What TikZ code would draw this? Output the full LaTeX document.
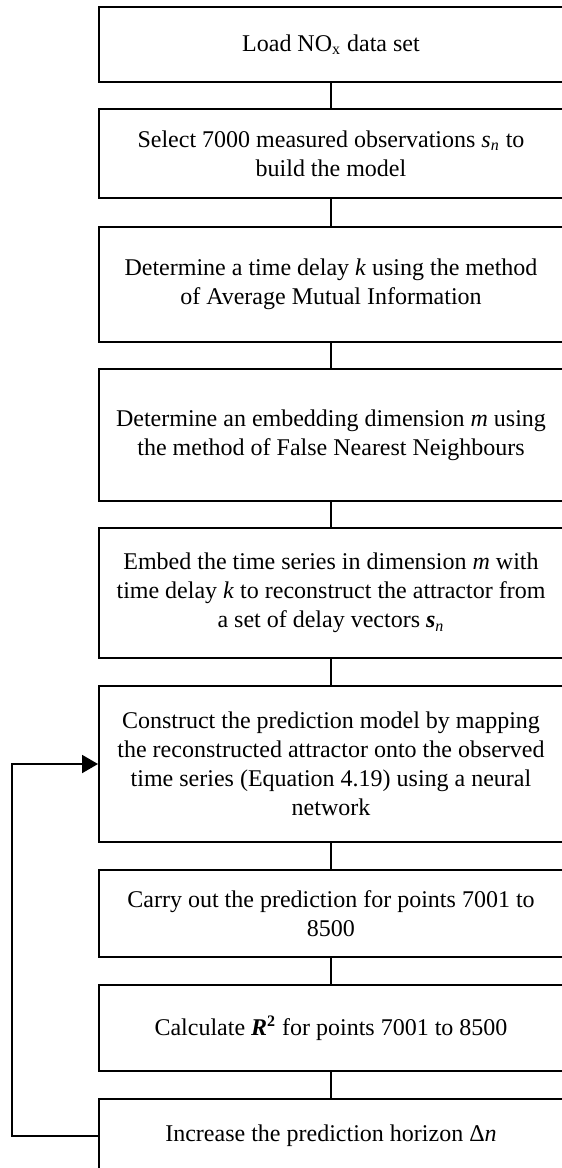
\documentclass[tikz,border=0pt]{standalone}
\usepackage{fontspec}
\setmainfont{Liberation Serif}
\usetikzlibrary{arrows.meta}

\tikzset{
  stepbox/.style={draw, line width=1pt, minimum width=232pt, text width=228pt,
    inner xsep=2pt, inner ysep=0pt, align=flush center,
    font=\fontsize{12}{14.5}\selectfont},
  link/.style={line width=1pt},
}

\begin{document}
\begin{tikzpicture}[x=0.5pt,y=0.5pt]
% frame of the page (boxes run off the right and bottom edges)
\path[use as bounding box, clip] (0,0) rectangle (562,-1168);
\fill[white] (0,0) rectangle (562,-1168);

% Steps of the method
\node[stepbox, minimum height=37.5pt] (load) at (331,-44.5) {Load NO\textsubscript{x} data set};
\node[stepbox, minimum height=44.5pt] (select) at (331,-153.5)
  {Select 7000 measured observations \textit{s}\textsubscript{\textit{n}} to\\build the model};
\node[stepbox, minimum height=57.5pt] (delay) at (331,-284.5)
  {Determine a time delay \textit{k} using the method\\of Average Mutual Information};
\node[stepbox, minimum height=66pt] (embdim) at (331,-435)
  {Determine an embedding dimension \textit{m} using\\the method of False Nearest Neighbours};
\node[stepbox, minimum height=65pt] (embed) at (331,-593)
  {Embed the time series in dimension \textit{m} with\\time delay \textit{k} to reconstruct the attractor from\\a set of delay vectors \textbf{\textit{s}}\textsubscript{\textit{n}}};
\node[stepbox, minimum height=78pt] (model) at (331,-764)
  {Construct the prediction model by mapping\\the reconstructed attractor onto the observed\\time series (Equation 4.19) using a neural\\network};
\node[stepbox, minimum height=43.5pt] (predict) at (331,-913.5)
  {Carry out the prediction for points 7001 to\\8500};
\node[stepbox, minimum height=43pt] (rsq) at (331,-1028)
  {Calculate \textbf{\textit{R}\textsuperscript{2}} for points 7001 to 8500};
\node[stepbox, minimum height=36.5pt] (horizon) at (331,-1135.5)
  {Increase the prediction horizon Δ\textit{n}};

% Drawing links between the steps
\draw[link] (load.south) -- (select.north);
\draw[link] (select.south) -- (delay.north);
\draw[link] (delay.south) -- (embdim.north);
\draw[link] (embdim.south) -- (embed.north);
\draw[link] (embed.south) -- (model.north);
\draw[link] (model.south) -- (predict.north);
\draw[link] (predict.south) -- (rsq.north);
\draw[link] (rsq.south) -- (horizon.north);

% Drawing the loop back to the model
\coordinate (back) at (12,-950);
\draw[link, -{Triangle[length=8pt,width=9pt]}] (horizon.west) -| (back) |- (model.west);
\end{tikzpicture}
\end{document}
